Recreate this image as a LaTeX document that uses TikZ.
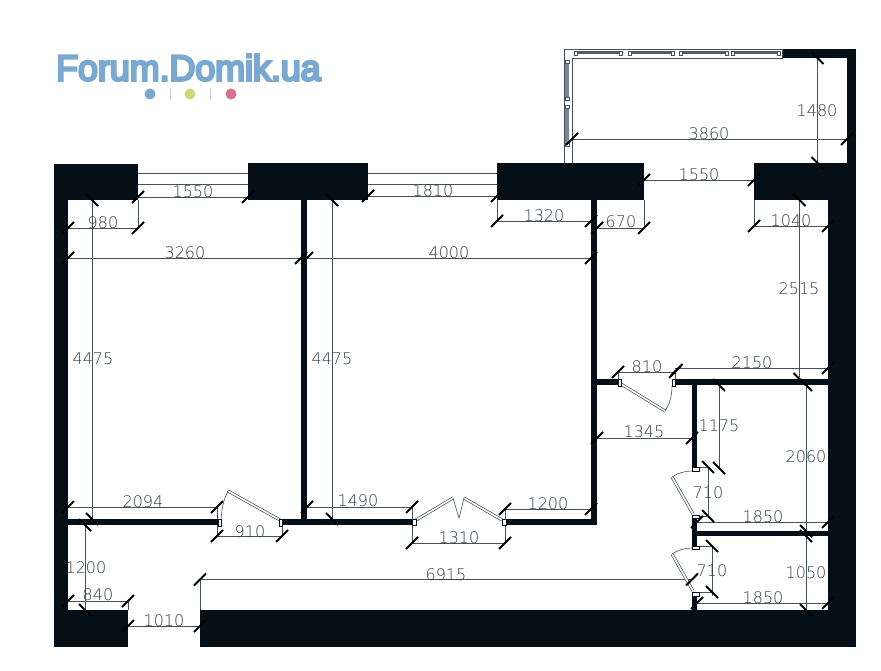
\documentclass[tikz,border=0pt]{standalone}
\usepackage{fontspec}
\setmainfont{Liberation Sans}
\newfontfamily\dimfont{DejaVu Sans ExtraLight}
\newfontfamily\logofont[FakeBold=7]{Liberation Sans}
\definecolor{wall}{HTML}{040F18}
\definecolor{dimline}{HTML}{46525B}
\definecolor{dimtext}{HTML}{333F48}
\definecolor{logoblue}{HTML}{79A9D1}
\definecolor{logogreen}{HTML}{CFD67C}
\definecolor{logopink}{HTML}{D9708F}
\definecolor{glass}{HTML}{4F5B67}
\definecolor{glassb}{HTML}{76859A}
\tikzset{
  wallfill/.style={fill=wall,draw=none},
  dimln/.style={draw=dimline,line width=0.8pt},
  tickmark/.style={draw=black,line width=1.9pt},
  lbl/.style={inner sep=0pt,text=dimtext,font=\dimfont\fontsize{16}{16}\selectfont},
  jamb/.style={draw=wall,fill=white,line width=0.5pt},
  leaf/.style={draw=dimline,line width=0.6pt},
  smalljamb/.style={draw=dimline,fill=white,line width=0.5pt},
}
% forward and backward dimension ticks
\newcommand{\tkf}[2]{\draw[tickmark] (#1-6,#2+6) -- (#1+6,#2-6);}
\newcommand{\tkb}[2]{\draw[tickmark] (#1-6,#2-6) -- (#1+6,#2+6);}
\newcommand{\dl}[2]{\draw[dimln] #1 -- #2;}
\newcommand{\lab}[4]{\node[lbl] (#1) at (#2,#3) {#4};}
% door leaf as a doubled line
\newcommand{\leafd}[2]{\draw[draw=dimline,line width=3pt] #1 -- #2; \draw[white,line width=1.6pt] #1 -- #2;}
\begin{document}
\begin{tikzpicture}[x=1pt,y=-1pt]
\useasboundingbox[fill=white] (0,0) rectangle (881,671);

% logo
\node[inner sep=0pt,anchor=base west,text=logoblue,font=\logofont\fontsize{36}{36}\selectfont] (logo) at (56,80.5) {\scalebox{0.994}[1]{Forum.Domik.ua}};
\fill[logoblue] (150,94) circle (5.5);
\fill[logogreen] (190,94) circle (5.5);
\fill[logopink] (231,94) circle (5.5);
\draw[gray!45,line width=0.6pt] (170,88.5) -- (170,99.5) (210,88.5) -- (210,99.5);

% dimension lines
% windows
\dl{(138,173)}{(248,173)} \dl{(138,184)}{(248,184)} \dl{(138,197)}{(248,197)}
\dl{(368,173)}{(497,173)} \dl{(368,184)}{(497,184)} \dl{(368,196)}{(497,196)}
% left room
\dl{(68,228)}{(138,228)} \dl{(138,200)}{(138,228)}
\dl{(68,258)}{(301,258)} \dl{(307,258)}{(591,258)}
\dl{(92,200)}{(92,519)} \dl{(332,200)}{(332,519)}
\dl{(68,507)}{(217,507)} \dl{(217,507)}{(217,537)}
\dl{(218,536)}{(282,536)} \dl{(282,525)}{(282,536)}
\dl{(307,507)}{(412,507)}
\dl{(412,507)}{(412,543)} \dl{(412,543)}{(505,543)} \dl{(505,509)}{(505,543)}
\dl{(505,509)}{(591,509)}
% hall bottom
\dl{(85,525)}{(85,610)} \dl{(68,601)}{(128,601)} \dl{(128,601)}{(128,610)}
\dl{(128,626)}{(200,626)} \dl{(200,579)}{(200,610)} \dl{(200,579)}{(692,579)}
% top right
\dl{(497,200)}{(497,221)} \dl{(497,221)}{(591,221)}
\dl{(597,228)}{(644,228)} \dl{(644,200)}{(644,228)}
\dl{(644,180)}{(754,180)}
\dl{(754,226)}{(828,226)} \dl{(754,200)}{(754,226)}
\dl{(799.5,200)}{(799.5,379)}
\dl{(572,139)}{(847,139)} \dl{(817.5,58)}{(817.5,163)}
% right rooms
\dl{(618,372)}{(675,372)} \dl{(618,372)}{(618,379)} \dl{(675,372)}{(675,379)}
\dl{(675,368)}{(828,368)}
\dl{(719,385)}{(719,468)}
\dl{(597,438)}{(692,438)}
\dl{(806,385)}{(806,531)}
\dl{(708,467)}{(708,516)} \dl{(697,522)}{(828,522)}
\dl{(712,546)}{(712,596)} \dl{(697,603)}{(828,603)}
\dl{(806,536)}{(806,610)}
\dl{(692,467)}{(708,467)} \dl{(699,516)}{(708,516)} \dl{(692,546)}{(712,546)} \dl{(699,592)}{(712,592)}

% walls
\fill[wallfill] (54,164) rectangle (138,200);
\fill[wallfill] (54,164) rectangle (68,647);
\fill[wallfill] (248,163) rectangle (368,200);
\fill[wallfill] (497,163) rectangle (644,200);
\fill[wallfill] (754,163) rectangle (856,200);
\fill[wallfill] (828,200) rectangle (856,647);
\fill[wallfill] (847,49) rectangle (856,163);
\fill[wallfill] (782,49) rectangle (856,58);
\fill[wallfill] (54,610) rectangle (128,647);
\fill[wallfill] (200,610) rectangle (856,647);
\fill[wallfill] (301,200) rectangle (307,525);
\fill[wallfill] (591,200) rectangle (597,525);
\fill[wallfill] (68,519) rectangle (218,525);
\fill[wallfill] (282,519) rectangle (412,525);
\fill[wallfill] (506,519) rectangle (597,525);
\fill[wallfill] (597,379) rectangle (618,385);
\fill[wallfill] (675,379) rectangle (828,385);
\fill[wallfill] (692,385) rectangle (697,467);
\fill[wallfill] (692,518) rectangle (697,546);
\fill[wallfill] (692,596) rectangle (697,610);
\fill[wallfill] (697,531) rectangle (828,536);

% balcony glazing
\draw[draw=dimline,line width=0.7pt] (564,163) -- (564,49) -- (782,49) -- (782,58) -- (572,58) -- (572,163);
\foreach \a/\b in {577/619,631/671,682/725,734/777}{
  \fill[glass] (\a,51) rectangle (\b,54.5);
  \draw[smalljamb] (\a-3,51) rectangle (\a,55);
  \draw[smalljamb] (\b,51) rectangle (\b+3,55);
}
\foreach \a/\b in {63/97,108/143}{
  \fill[glassb] (564.5,\a) rectangle (569,\b);
  \draw[smalljamb] (565,\a-3) rectangle (569.5,\a);
  \draw[smalljamb] (565,\b) rectangle (569.5,\b+3);
}

% doors
% 910
\leafd{(280,520)}{(228,491)}
\draw[leaf] (228,491) .. controls (225,497) and (223,503) .. (222,510) -- (221,519);
\draw[jamb] (218,519) rectangle (221,526);
\draw[jamb] (279,519) rectangle (282,526);
% 1310
\leafd{(416,520)}{(453,498)}
\leafd{(502,520)}{(464,498)}
\draw[leaf] (453,498) -- (459,518) -- (464,498);
\draw[jamb] (412,519) rectangle (416,525);
\draw[jamb] (502,519) rectangle (506,525);
% 810
\leafd{(621,384)}{(665,411)}
\draw[leaf] (665,411) .. controls (669,405) and (672,397) .. (672,386);
\draw[jamb] (618,379) rectangle (621,386);
\draw[jamb] (672,379) rectangle (675,386);
% 710 upper
\leafd{(693,514)}{(672,477)}
\draw[leaf] (672,477) .. controls (678,473) and (685,471) .. (692,471);
\draw[jamb] (692,467) rectangle (699,471);
\draw[jamb] (692,515) rectangle (699,518);
% 710 lower
\leafd{(693,591)}{(672,554)}
\draw[leaf] (672,554) .. controls (678,550) and (685,548) .. (692,548);
\draw[jamb] (692,546) rectangle (699,549);
\draw[jamb] (692,592) rectangle (699,596);

% ticks
\tkf{138}{197} \tkf{248}{197} \tkf{368}{196} \tkf{497}{196}
\tkf{68}{228} \tkf{138}{228}
\tkf{68}{258} \tkf{301}{258} \tkf{307}{258} \tkf{591}{258}
\tkb{92}{200} \tkb{92}{519} \tkb{332}{200} \tkb{332}{519}
\tkf{68}{507} \tkf{217}{507} \tkf{217}{536} \tkf{282}{536}
\tkf{307}{507} \tkf{412}{507} \tkf{412}{543} \tkf{505}{543}
\tkf{505}{509} \tkf{591}{509}
\tkb{85}{525} \tkb{85}{610} \tkf{68}{601} \tkf{128}{601}
\tkf{128}{626} \tkf{200}{626} \tkf{200}{579.5} \tkf{692}{579.5}
\tkf{497}{221} \tkf{591}{221} \tkf{597}{228} \tkf{644}{228}
\tkf{644}{180} \tkf{754}{180}
\tkf{754}{226} \tkf{828}{226}
\tkb{799.5}{200} \tkb{799.5}{379}
\tkf{572}{139} \tkf{847}{139} \tkb{817.5}{58} \tkb{817.5}{163}
\tkf{618}{372} \tkf{675}{372} \tkf{676.5}{370} \tkf{828}{368}
\tkb{719}{385} \tkb{719}{468}
\tkf{597}{438} \tkf{692}{438}
\tkb{806}{385} \tkb{806}{531}
\tkb{708}{467} \tkb{708}{516} \tkf{697}{522} \tkf{828}{522}
\tkb{712}{546} \tkb{712}{592} \tkf{697}{603} \tkf{828}{603}
\tkb{806}{536} \tkb{806}{610}

% labels
\lab{a1}{193}{192}{1550}
\lab{a2}{103}{223}{980}
\lab{a3}{185}{253}{3260}
\lab{a4}{93}{359}{4475}
\lab{a5}{332}{359}{4475}
\lab{a6}{433}{191}{1810}
\lab{a7}{544}{216}{1320}
\lab{a8}{621}{222}{670}
\lab{a9}{449}{253}{4000}
\lab{b1}{709}{134}{3860}
\lab{b2}{817}{111}{1480}
\lab{b3}{699}{175}{1550}
\lab{b4}{791}{221}{1040}
\lab{b5}{799}{289}{2515}
\lab{b6}{647}{367}{810}
\lab{b7}{752}{363}{2150}
\lab{b8}{719}{426}{1175}
\lab{b9}{644}{432}{1345}
\lab{c1}{806}{457}{2060}
\lab{c2}{708}{493}{710}
\lab{c3}{763}{517}{1850}
\lab{c4}{712}{571}{710}
\lab{c5}{806}{573}{1050}
\lab{c6}{763}{598}{1850}
\lab{c7}{143}{502}{2094}
\lab{c8}{250}{532}{910}
\lab{c9}{86}{568}{1200}
\lab{d1}{98}{595}{840}
\lab{d2}{164}{621}{1010}
\lab{d3}{358}{501}{1490}
\lab{d4}{459}{538}{1310}
\lab{d5}{548}{504}{1200}
\lab{d6}{446}{575}{6915}
\end{tikzpicture}
\end{document}
